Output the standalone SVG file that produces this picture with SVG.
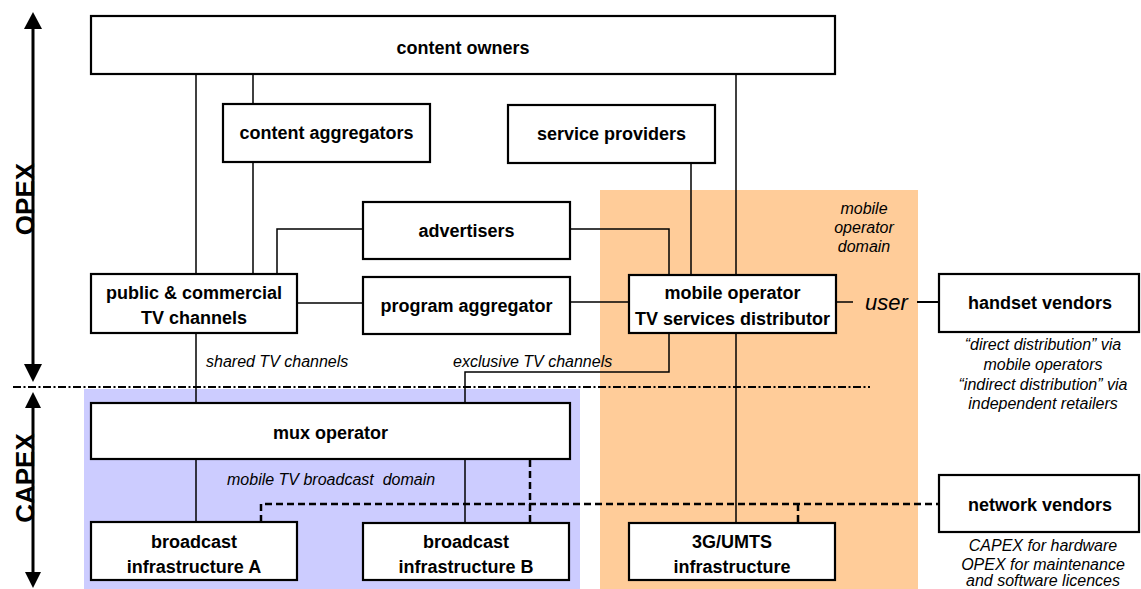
<svg xmlns="http://www.w3.org/2000/svg" width="1141" height="589" viewBox="0 0 1141 589">
<style>
text{font-family:"Liberation Sans",Arial,sans-serif;fill:#000}
.lbl{font-size:18px;font-weight:bold;text-anchor:middle}
.it{font-size:16px;font-style:italic}
.itc{font-size:16px;font-style:italic;text-anchor:middle}
.axis{font-size:26px;font-weight:bold;text-anchor:middle}
.box{fill:#fff;stroke:#000;stroke-width:2.2}
.con{fill:none;stroke:#000;stroke-width:1.5}
.dash{fill:none;stroke:#000;stroke-width:2.5;stroke-dasharray:7 4}
.dd{fill:none;stroke:#000;stroke-width:2;stroke-dasharray:8 2.5 2 2.5}
.ax{stroke:#000;stroke-width:3}
.head{fill:#000;stroke:none}
</style>
<g id="domains">
<rect x="600" y="190" width="318" height="399" fill="#FFCC99"/>
<rect x="84" y="389" width="496" height="200" fill="#CCCCFF"/>
</g>
<g id="axes">
<line class="ax" x1="33" y1="27" x2="33" y2="366"/>
<polygon class="head" points="33,12 24,29 42,29"/>
<polygon class="head" points="33,382 24,364 42,364"/>
<line class="ax" x1="33" y1="406" x2="33" y2="574"/>
<polygon class="head" points="33,392 25,408 41,408"/>
<polygon class="head" points="33,588 25,572 41,572"/>
<text class="axis" transform="translate(34,199) rotate(-90)">OPEX</text>
<text class="axis" transform="translate(34,478) rotate(-90)">CAPEX</text>
<line class="dd" x1="13" y1="387" x2="870" y2="387"/>
</g>
<g id="connectors">
<polyline class="con" points="196,74 196,274"/>
<polyline class="con" points="253,74 253,104"/>
<polyline class="con" points="253,162 253,274"/>
<polyline class="con" points="277,274 277,229 363,229"/>
<polyline class="con" points="570,229 669,229 669,275"/>
<polyline class="con" points="691,163 691,275"/>
<polyline class="con" points="736,74 736,275"/>
<polyline class="con" points="297,303 363,303"/>
<polyline class="con" points="570,302 629,302"/>
<polyline class="con" points="836,302 853,302"/>
<polyline class="con" points="917,302 939,302" style="stroke-width:2"/>
<polyline class="con" points="196,333 196,403"/>
<polyline class="con" points="669,333 669,372 465,372 465,403"/>
<polyline class="con" points="736,333 736,523"/>
<polyline class="con" points="196,459 196,522"/>
<polyline class="con" points="465,459 465,523"/>
<polyline class="dash" points="530,460 530,523"/>
<polyline class="dash" points="261,522 261,504 939,504"/>
<polyline class="dash" points="798,504 798,523"/>
</g>
<g id="content-owners"><rect class="box" x="91" y="16" width="744" height="58"/><text class="lbl" x="463" y="54">content owners</text></g>
<g id="content-aggregators"><rect class="box" x="223" y="104" width="207" height="58"/><text class="lbl" x="326.5" y="139">content aggregators</text></g>
<g id="service-providers"><rect class="box" x="508" y="105" width="207" height="58"/><text class="lbl" x="611.5" y="140">service providers</text></g>
<g id="advertisers"><rect class="box" x="363" y="202" width="207" height="57"/><text class="lbl" x="466.5" y="237">advertisers</text></g>
<g id="program-aggregator"><rect class="box" x="363" y="277" width="207" height="57"/><text class="lbl" x="466.5" y="312">program aggregator</text></g>
<g id="public-commercial"><rect class="box" x="91" y="274" width="206" height="59"/><text class="lbl" x="194" y="299">public &amp; commercial</text><text class="lbl" x="194" y="324">TV channels</text></g>
<g id="mobile-operator"><rect class="box" x="629" y="275" width="207" height="58"/><text class="lbl" x="732.5" y="299">mobile operator</text><text class="lbl" x="732.5" y="325">TV services distributor</text></g>
<g id="handset-vendors"><rect class="box" x="939" y="274" width="200" height="58"/><text class="lbl" x="1040" y="309">handset vendors</text></g>
<g id="mux-operator"><rect class="box" x="91" y="403" width="479" height="56"/><text class="lbl" x="330.5" y="439">mux operator</text></g>
<g id="broadcast-a"><rect class="box" x="91" y="522" width="206" height="58"/><text class="lbl" x="194" y="548">broadcast</text><text class="lbl" x="194" y="573">infrastructure A</text></g>
<g id="broadcast-b"><rect class="box" x="363" y="523" width="206" height="57"/><text class="lbl" x="466" y="548">broadcast</text><text class="lbl" x="466" y="573">infrastructure B</text></g>
<g id="umts"><rect class="box" x="629" y="523" width="206" height="57"/><text class="lbl" x="732" y="548">3G/UMTS</text><text class="lbl" x="732" y="573">infrastructure</text></g>
<g id="network-vendors"><rect class="box" x="939" y="475" width="200" height="57"/><text class="lbl" x="1040" y="511">network vendors</text></g>
<g id="annotations">
<text class="it" x="206" y="367">shared TV channels</text>
<text class="it" x="453" y="367">exclusive TV channels</text>
<text class="it" x="227" y="485" style="white-space:pre" xml:space="preserve">mobile TV broadcast  domain</text>
<text class="itc" x="864" y="214">mobile</text>
<text class="itc" x="864" y="233">operator</text>
<text class="itc" x="864" y="252">domain</text>
<text x="865" y="310" style="font-size:22px;font-style:italic">user</text>
<text class="itc" x="1043" y="350">“direct distribution” via</text>
<text class="itc" x="1043" y="370">mobile operators</text>
<text class="itc" x="1043" y="390">“indirect distribution” via</text>
<text class="itc" x="1043" y="409">independent retailers</text>
<text class="itc" x="1043" y="551">CAPEX for hardware</text>
<text class="itc" x="1043" y="570">OPEX for maintenance</text>
<text class="itc" x="1043" y="586">and software licences</text>
</g>
</svg>
